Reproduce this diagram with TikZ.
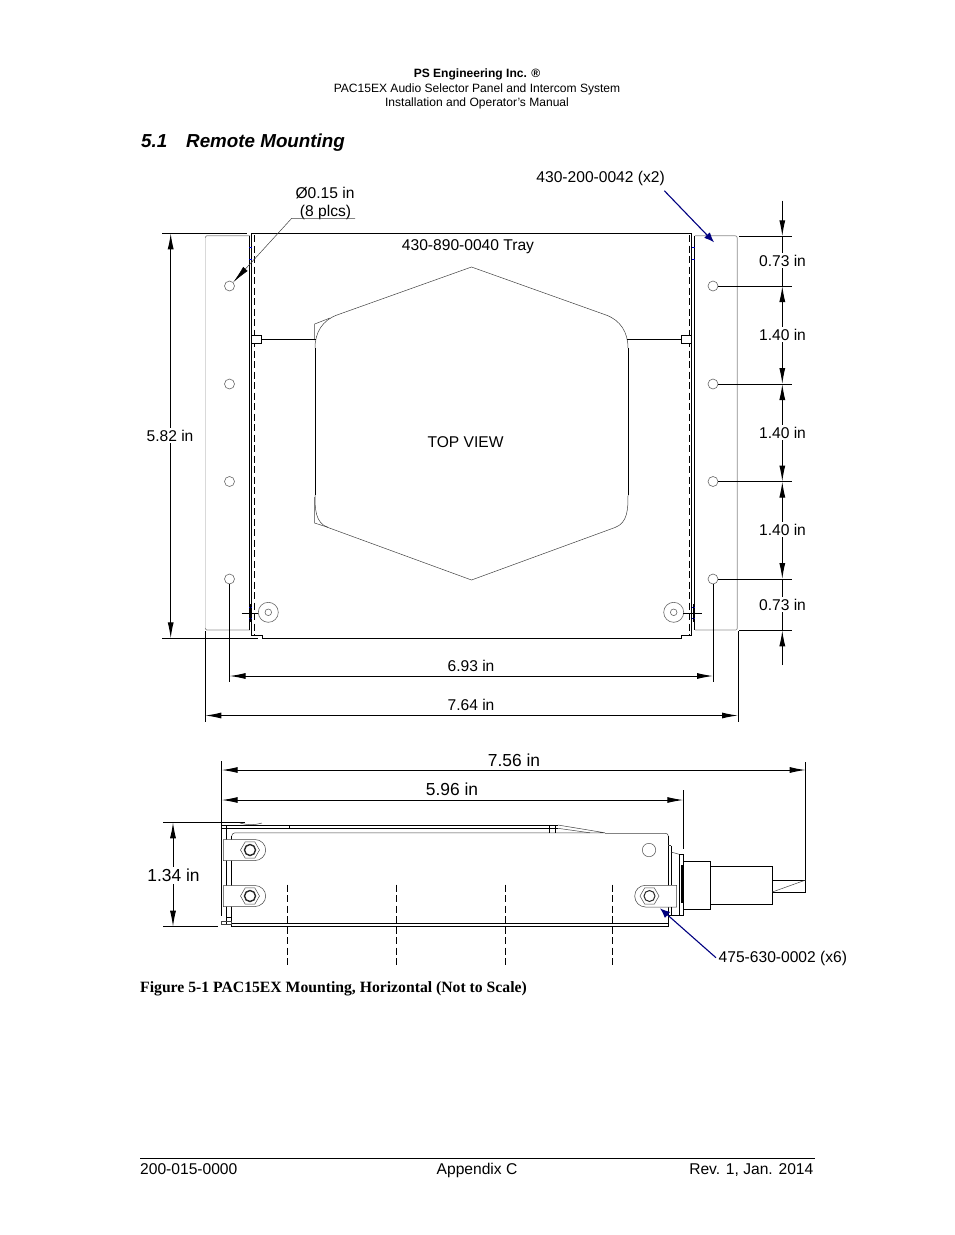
\documentclass[tikz,border=0pt]{standalone}
\usepackage{fontspec}
\setmainfont{Liberation Sans}
\newfontfamily\capfont{Liberation Serif}
\usetikzlibrary{arrows.meta, shapes.geometric}
\definecolor{leadblue}{RGB}{0,0,128}
\tikzset{
        dimline/.style = {line width = 1pt},
        dimarrow/.style = {dimline, -{Latex[length=16pt,width=6pt]}},
        dimboth/.style = {dimline, {Latex[length=16pt,width=6pt]}-{Latex[length=16pt,width=6pt]}},
        partline/.style = {line width = 1pt},
        thinline/.style = {line width = .5pt, color = black!75},
        grayplate/.style = {line width = .7pt, color = black!45},
        fadeplate/.style = {line width = 1.3pt, color = black!15},
        hidden/.style = {line width = 1pt, dash pattern = on 7pt off 3.5pt},
        hole/.style = {circle, draw = black!60, line width = .6pt, minimum size = 10pt, inner sep = 0pt},
        bluelead/.style = {line width = 1.1pt, color = leadblue, -{Latex[length=10pt,width=8pt]}},
        dimtext/.style = {font = \fontsize{15.6}{17}\selectfont, inner xsep = 1pt, inner ysep = 2pt},
        bigtext/.style = {font = \fontsize{17.4}{19}\selectfont, inner xsep = 1pt, inner ysep = 2pt},
        headtext/.style = {font = \fontsize{12.05}{14}\selectfont, inner sep = 0pt, anchor = base},
        foottext/.style = {font = \fontsize{15.6}{17}\selectfont, inner sep = 0pt},
        sectext/.style = {font = \fontsize{18.8}{21}\selectfont\bfseries\itshape, inner sep = 0pt, anchor = base west},
        latch/.style = {draw, fill = white, line width = .7pt, minimum width = 10pt, minimum height = 8pt, inner sep = 0pt}
}
\begin{document}
\begin{tikzpicture}[x = 1pt, y = -1pt]
        \useasboundingbox (0,0) rectangle (954,1235);
        % page header
        \node[headtext] (head1) at (477,77) {\bfseries PS Engineering Inc. ®};
        \node[headtext] (head2) at (477,92) {PAC15EX Audio Selector Panel and Intercom System};
        \node[headtext] (head3) at (477,106) {Installation and Operator’s Manual};
        \node[sectext] (sec) at (141,147.3) {5.1};
        \node[sectext] (title) at (186,147.3) {Remote Mounting};
        % top view: side plates
        \draw[grayplate] (250,235.7) -- (207,235.7) to[out = 180, in = 90] (205.3,238);
        \draw[fadeplate] (205.3,238) -- (205.3,628);
        \draw[grayplate] (205.3,628) to[out = 270, in = 180] (207,630);
        \draw[fadeplate] (207,630) -- (250,630);
        \draw[grayplate] (695,235.7) -- (735,235.7) to[out = 0, in = 90] (737.3,238) -- (737.3,628) to[out = 270, in = 0] (735.5,630);
        \draw[fadeplate] (695,630) -- (735.5,630);
        % top view: tray
        \draw[partline] (251.7,233.3) -- (691.7,233.3);
        \draw[partline] (262,638.3) -- (681.7,638.3);
        \draw[partline] (262,638.3) -- (262,635.3) -- (251.7,635.3) -- (251.7,233.3);
        \draw[partline] (681.7,638.3) -- (681.7,635.3) -- (691.7,635.3) -- (691.7,233.3);
        \draw[partline] (249.5,235.7) -- (249.5,630);
        \draw[partline] (694.7,235.7) -- (694.7,630);
        \draw[hidden] (254.4,235) -- (254.4,635);
        \draw[hidden] (689,235) -- (689,635);
        \foreach \y in {247.3,259.3,607.3,618.3} {
                \draw[blue!80!black, line width = .5pt] (249,\y) -- (251.5,\y);
                \draw[blue!80!black, line width = .5pt] (692,\y) -- (694.5,\y);
        }
        % top view: hexagon cover
        \draw[thinline] (315,348) to[out = 90, in = 200] (337,315) -- (471.5,267) -- (606,315) to[out = -20, in = 90] (628,348);
        \draw[thinline] (628,495) to[out = -90, in = 20] (615,527.5) -- (471.5,580) -- (328,527.5) to[out = 160, in = -90] (315,495);
        \draw[line width = .7pt] (315,348) -- (315,495);
        \draw[line width = .7pt] (628,348) -- (628,495);
        \draw[thinline] (314.7,340) -- (314.7,324) -- (330,318);
        \draw[thinline] (314.5,497) -- (314.5,523) -- (328,527.3);
        % top view: latches
        \node[latch] (latchl) at (256.7,339) {};
        \node[latch] (latchr) at (686.5,339) {};
        \coordinate (hexl) at (316,339);
        \coordinate (hexr) at (627,339);
        \draw[partline] (latchl.east) -- (hexl);
        \draw[partline] (latchr.west) -- (hexr);
        % top view: standoffs
        \foreach \n/\x in {l/268.3,r/673.7} {
                \node[circle, draw = black!60, line width = .6pt, minimum size = 20pt, inner sep = 0pt] (post\n) at (\x,612.3) {};
                \node[circle, draw = black!60, line width = .6pt, minimum size = 6.6pt, inner sep = 0pt] (postin\n) at (\x,612.3) {};
        }
        \draw[partline] (241.7,613.3) -- (258,613.3);
        \draw[partline] (250.5,604) -- (250.5,622);
        \draw[partline] (683.3,613.3) -- (701.7,613.3);
        \draw[partline] (693.7,604) -- (693.7,622);
        % holes
        \foreach \i/\y in {1/286,2/384,3/481.5,4/579} {
                \node[hole] (hl\i) at (229.5,\y) {};
                \node[hole] (hr\i) at (713,\y) {};
                \draw[dimline] (hr\i.east) -- ++(73.7,0);
        }
        % right dimensions
        \coordinate (dimx) at (782.3,0);
        \coordinate (rtop) at (782.3,200.7);
        \coordinate (rbot) at (782.3,665);
        \coordinate (ptop) at (782.3,236.3);
        \coordinate (pbot) at (782.3,630.3);
        \node[dimtext] (rdim1) at (782.5,260.5) {0.73 in};
        \node[dimtext] (rdim2) at (782.5,334.5) {1.40 in};
        \node[dimtext] (rdim3) at (782.5,432.5) {1.40 in};
        \node[dimtext] (rdim4) at (782.5,529.5) {1.40 in};
        \node[dimtext] (rdim5) at (782.5,604.5) {0.73 in};
        \draw[dimline] (739,236.3) -- (791.7,236.3);
        \draw[dimline] (739,630.3) -- (791.7,630.3);
        \draw[dimarrow] (rtop) -- (ptop);
        \draw[dimarrow] (rbot) -- (pbot);
        \draw[dimline] (ptop) -- (dimx |- rdim1.north);
        \draw[dimline] (dimx |- rdim1.south) -- (dimx |- hr1);
        \draw[dimarrow] (dimx |- rdim2.north) -- (dimx |- hr1);
        \draw[dimarrow] (dimx |- rdim2.south) -- (dimx |- hr2);
        \draw[dimarrow] (dimx |- rdim3.north) -- (dimx |- hr2);
        \draw[dimarrow] (dimx |- rdim3.south) -- (dimx |- hr3);
        \draw[dimarrow] (dimx |- rdim4.north) -- (dimx |- hr3);
        \draw[dimarrow] (dimx |- rdim4.south) -- (dimx |- hr4);
        \draw[dimline] (dimx |- hr4) -- (dimx |- rdim5.north);
        \draw[dimline] (dimx |- rdim5.south) -- (pbot);
        % left dimension
        \coordinate (ltop) at (170.7,233.3);
        \coordinate (lbot) at (170.7,638.3);
        \node[dimtext] (ldim) at (170,435.5) {5.82 in};
        \draw[dimline] (162,233.3) -- (247,233.3);
        \draw[dimline] (162,638.3) -- (258,638.3);
        \draw[dimarrow] (ltop |- ldim.north) -- (ltop);
        \draw[dimarrow] (lbot |- ldim.south) -- (lbot);
        % lower dimensions
        \coordinate (a693) at (229.5,676);
        \coordinate (b693) at (713,676);
        \coordinate (a764) at (205.3,715.5);
        \coordinate (b764) at (738,715.5);
        \draw[dimline] (hl4.south) -- (229.5,682);
        \draw[dimline] (hr4.south) -- (713,682);
        \draw[dimline] (205.3,631) -- (205.3,722);
        \draw[dimline] (738,631) -- (738,722);
        \draw[dimboth] (a693) -- (b693);
        \draw[dimboth] (a764) -- (b764);
        \node[dimtext] (d693) at (471,665.5) {6.93 in};
        \node[dimtext] (d764) at (471,704.5) {7.64 in};
        % top view texts and leaders
        \node[dimtext] (tray) at (468,246.5) {430-890-0040 Tray};
        \node[dimtext] (topview) at (465.5,442.5) {TOP VIEW};
        \node[dimtext] (dia1) at (325,193.5) {Ø0.15 in};
        \node[dimtext] (dia2) at (325.5,212) {(8 plcs)};
        \coordinate (diaend) at (355,218.3);
        \coordinate (diaknee) at (291.7,218.3);
        \draw[thinline, -{Latex[length=18pt,width=6pt,black]}] (diaend) -- (diaknee) -- (hl1.north east);
        \node[dimtext, anchor = east] (bracket) at (666,178.5) {430-200-0042 (x2)};
        \coordinate (bracketfrom) at (664.3,190.7);
        \coordinate (bracketto) at (714,242.3);
        \draw[bluelead] (bracketfrom) -- (bracketto);
        % side view: dimensions
        \coordinate (a756) at (221.7,770);
        \coordinate (b756) at (805.7,770);
        \coordinate (a596) at (221.7,800);
        \coordinate (b596) at (683.3,800);
        \draw[dimline] (221.7,761) -- (221.7,916);
        \draw[dimline] (805.7,762) -- (805.7,892.3);
        \draw[dimline] (683.3,790) -- (683.3,849);
        \draw[dimboth] (a756) -- (b756);
        \draw[dimboth] (a596) -- (b596);
        \node[bigtext] (d756) at (514,760.5) {7.56 in};
        \node[bigtext] (d596) at (452,789) {5.96 in};
        \coordinate (a134) at (173,822.3);
        \coordinate (b134) at (173,926.7);
        \node[bigtext] (d134) at (173.5,875.5) {1.34 in};
        \draw[dimline] (163,822.3) -- (245,822.3);
        \draw[dimline] (163,926.7) -- (218,926.7);
        \draw[dimarrow] (a134 |- d134.north) -- (a134);
        \draw[dimarrow] (b134 |- d134.south) -- (b134);
        % side view: tray
        \draw[partline] (221.7,825) -- (558,825);
        \draw[partline] (221.7,828.3) -- (558,828.3);
        \draw[thinline] (240,823) to[out = -15, in = 195] (262,823);
        \draw[partline] (289,825) -- (289,828.3);
        \draw[thinline] (231.7,836) to[out = 90, in = 180] (235,832.8) -- (605,832.8) -- (558,825);
        \draw[thinline] (558,828.3) -- (590,832.8);
        \draw[partline] (549,825) -- (549,832.8);
        \draw[partline] (555,825) -- (555,832.8);
        \draw[thinline] (605,833.3) -- (665.5,833.3) to[out = 0, in = 90] (668.3,836);
        \draw[partline] (668.3,836) -- (668.3,926) -- (231.7,926) -- (231.7,836);
        \draw[partline] (231.7,923.3) -- (668.3,923.3);
        \draw[partline] (226,825) -- (226,924);
        \draw[thinline] (221.7,921.3) rectangle (231.7,924.5);
        \draw[partline] (231.7,917) -- (226,917);
        % side view: tabs
        \foreach \n/\y in {a/850,b/896} {
                \draw[thinline, fill = white] (223.3,\y-10.5) -- (255,\y-10.5) .. controls (260.8,\y-10.5) and (265.7,\y-5.8) .. (265.7,\y) .. controls (265.7,\y+5.8) and (260.8,\y+10.5) .. (255,\y+10.5) -- (223.3,\y+10.5) -- cycle;
                \node[regular polygon, regular polygon sides = 6, draw = black!70, line width = .5pt, minimum size = 19pt, inner sep = 0pt] (nut\n) at (250,\y) {};
                \node[circle, draw = black!85, line width = 1.4pt, minimum size = 11pt, inner sep = 0pt] (nutin\n) at (250,\y) {};
        }
        \draw[thinline, fill = white] (676.7,885.3) -- (645.5,885.3) .. controls (639.5,885.3) and (634.7,890) .. (634.7,896) .. controls (634.7,902) and (639.5,907) .. (645.5,907) -- (676.7,907) -- cycle;
        \node[regular polygon, regular polygon sides = 6, draw = black!70, line width = .5pt, minimum size = 19pt, inner sep = 0pt] (nutc) at (649.5,896) {};
        \node[circle, draw = black!85, line width = 1pt, minimum size = 11pt, inner sep = 0pt] (nutinc) at (649.5,896) {};
        \node[circle, draw = black!60, line width = .6pt, minimum size = 13.4pt, inner sep = 0pt] (sidehole) at (649,850) {};
        % side view: connector
        \draw[thinline] (668.3,845.7) -- (671,845.7);
        \draw[partline] (671,845.7) -- (671,885);
        \draw[partline] (668.3,925) -- (668.3,915) -- (671,915) -- (671,907);
        \draw[thinline] (671,852) -- (679.3,854.3);
        \draw[partline] (671,915) -- (679.3,915);
        \draw[partline] (679.3,854.3) rectangle (683.3,915);
        \fill (680.7,865) rectangle (683.3,903);
        \draw[partline] (683.3,861.3) rectangle (710.7,909.3);
        \draw[partline] (710.7,866) rectangle (772.3,904.3);
        \draw[partline] (772.3,880) -- (805.7,880);
        \draw[partline] (772.3,892.3) -- (805.7,892.3);
        \draw[thinline] (772.3,892) -- (805.7,880);
        % side view: hidden lines
        \foreach \x in {287.5,396.5,505,612.5} {
                \draw[hidden] (\x,884.5) -- (\x,967);
        }
        \node[dimtext, anchor = west] (pin) at (717.5,958.5) {475-630-0002 (x6)};
        \coordinate (pinfrom) at (716,957.7);
        \coordinate (pinto) at (660,908.3);
        \draw[bluelead] (pinfrom) -- (pinto);
        % caption and page footer
        \node[anchor = base west, inner sep = 0pt, font = \fontsize{15.7}{17}\selectfont\capfont\bfseries] (caption) at (140,992.5) {Figure 5-1 PAC15EX Mounting, Horizontal (Not to Scale)};
        \coordinate (footl) at (140,1158.5);
        \coordinate (footr) at (815,1158.5);
        \draw[line width = .9pt] (footl) -- (footr);
        \node[foottext, anchor = base west] (foot1) at (140,1174.7) {200-015-0000};
        \node[foottext, anchor = base] (foot2) at (477,1174.7) {Appendix C};
        \node[foottext, anchor = base east] (foot3) at (813.5,1174.7) {Rev. 1, Jan. 2014};
\end{tikzpicture}
\end{document}
